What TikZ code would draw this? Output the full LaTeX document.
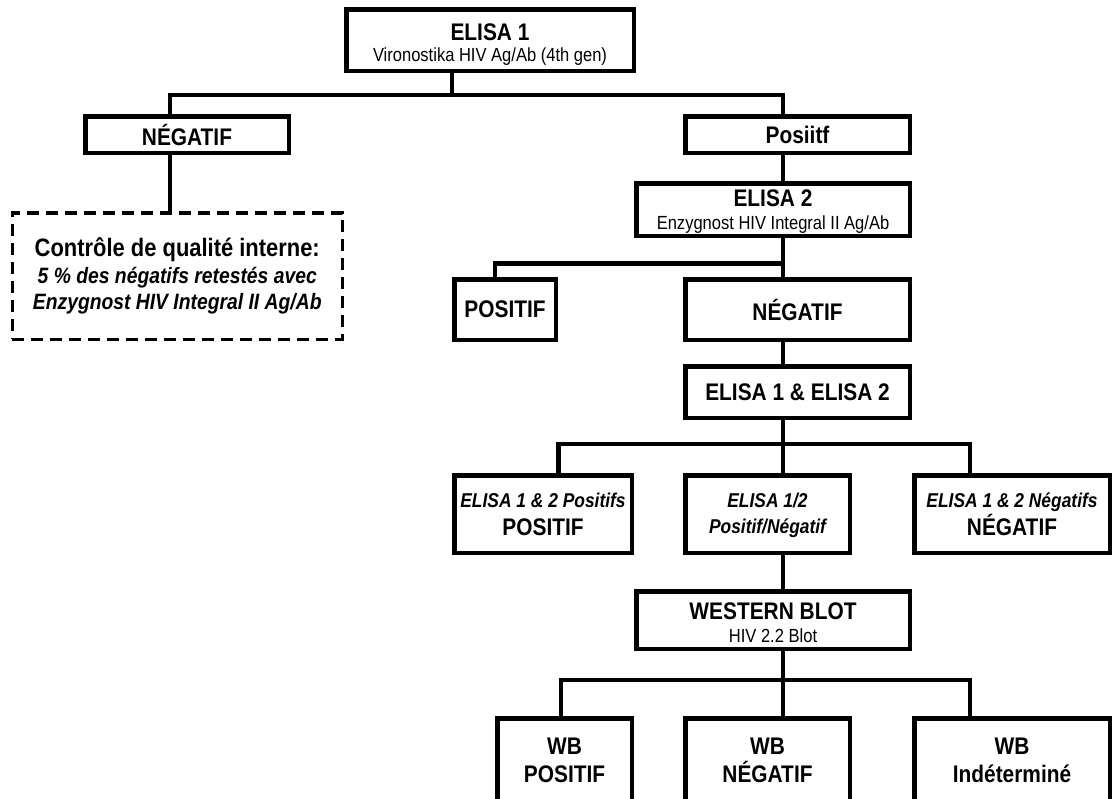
\documentclass[tikz,border=0pt]{standalone}
\usepackage{fontspec}
\setmainfont{Liberation Sans}[FakeStretch=0.87]
\usepackage{tikz}
\usetikzlibrary{positioning}
\tikzstyle{boite}=
[
	rectangle
	, draw=black
	, line width=2.25pt
	, fill=white
	, inner sep=0pt
	, align=center
	, font=\fontsize{12}{14}\selectfont\bfseries
]
\tikzstyle{pointille}=
[
	rectangle
	, draw=black
	, line width=1.75pt
	, dash pattern=on 6pt off 3.5pt
	, fill=white
	, inner sep=0pt
	, align=center
	, font=\fontsize{12.6}{13.25}\selectfont\bfseries
]
\tikzstyle{line} = [line width=2.25pt,-]
\newcommand{\soustitre}{\fontsize{9.5}{14}\selectfont\mdseries}
\newcommand{\italique}{\fontsize{10}{14}\selectfont\itshape}
\newcommand{\italqc}{\fontsize{11.1}{13.25}\selectfont\itshape}
\newcommand{\bas}[2][2pt]{\raisebox{-#1}[\height][\depth]{#2}}

\begin{document}
\begin{tikzpicture}[x=0.5pt,y=-0.5pt]
\useasboundingbox (0,0) rectangle (1113,798);
\clip (0,0) rectangle (1113,798);
\node(elisa1)[boite,minimum width=143.75pt,minimum height=30.75pt] at (490,40) {\bas[4pt]{ELISA 1}\\{\soustitre\bas[0.5pt]{Vironostika HIV Ag/Ab (4th gen)}}};
\node(neg1)[boite,minimum width=101.75pt,minimum height=18.25pt] at (187,134.5) {NÉGATIF};
\node(posiitf)[boite,minimum width=112.25pt,minimum height=18.25pt] at (797.5,134.5) {Posiitf};
\node(qc)[pointille,minimum width=165pt,minimum height=63.25pt] at (177.25,276) {Contrôle de qualité interne:\\{\italqc 5 \% des négatifs retestés avec}\\{\italqc Enzygnost HIV Integral II Ag/Ab}};
\node(elisa2)[boite,minimum width=136.75pt,minimum height=26.25pt] at (773,209.5) {\bas[2.5pt]{ELISA 2}\\{\soustitre Enzygnost HIV Integral II Ag/Ab}};
\node(posE2)[boite,minimum width=50.75pt,minimum height=30.25pt] at (505,309.5) {POSITIF};
\node(negE2)[boite,minimum width=112.25pt,minimum height=30.25pt] at (797.5,309.5) {NÉGATIF};
\node(e12)[boite,minimum width=112.25pt,minimum height=25.75pt] at (797.5,392) {ELISA 1 \& ELISA 2};
\node(r1)[boite,minimum width=88.75pt,minimum height=38.75pt] at (543,514) {{\italique ELISA 1 \& 2 Positifs}\\POSITIF};
\node(r2)[boite,minimum width=82.25pt,minimum height=38.75pt] at (767.5,514) {{\italique\bas[1pt]{ELISA 1/2}}\\{\italique Positif/Négatif}};
\node(r3)[boite,minimum width=97.75pt,minimum height=38.75pt] at (1012,514) {{\italique ELISA 1 \& 2 Négatifs}\\NÉGATIF};
\node(wb)[boite,minimum width=136.75pt,minimum height=28.75pt] at (773,620) {\bas[2.5pt]{WESTERN BLOT}\\{\soustitre HIV 2.2 Blot}};
\node(wb1)[boite,minimum width=67.25pt,minimum height=41.5pt] at (564.5,760) {WB\\POSITIF};
\node(wb2)[boite,minimum width=82.25pt,minimum height=41.5pt] at (767.5,760) {WB\\NÉGATIF};
\node(wb3)[boite,minimum width=97.75pt,minimum height=41.5pt] at (1012,760) {WB\\Indéterminé};

% embranchements
\coordinate (t) at (783,0);
\coordinate (j1) at (452,95);
\coordinate (jneg) at (170,95);
\coordinate (jpos) at (783,95);
\coordinate (j2) at (783,263.5);
\coordinate (j2a) at (495,263.5);
\coordinate (j3a) at (558.5,444);
\coordinate (j3b) at (970,444);
\coordinate (j4a) at (561,680);
\coordinate (j4b) at (970,680);

\draw[line](elisa1.south -| j1)--(j1);
\draw[line](neg1.north -| jneg)--(jneg)--(jpos)--(posiitf.north -| jpos);
\draw[line](neg1.south -| jneg)--(qc.north -| jneg);
\draw[line](posiitf.south -| t)--(elisa2.north -| t);

\draw[line](elisa2.south -| t)--(negE2.north -| t);
\draw[line](j2)--(j2a)--(posE2.north -| j2a);
\draw[line](negE2.south -| t)--(e12.north -| t);

\draw[line](e12.south -| t)--(r2.north -| t);
\draw[line](r1.north -| j3a)--(j3a)--(j3b)--(r3.north -| j3b);
\draw[line](r2.south -| t)--(wb.north -| t);

\draw[line](wb.south -| t)--(wb2.north -| t);
\draw[line](wb1.north -| j4a)--(j4a)--(j4b)--(wb3.north -| j4b);
\end{tikzpicture}
\end{document}
